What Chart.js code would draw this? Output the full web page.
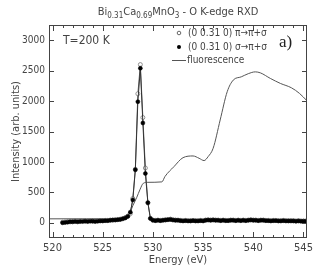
<!DOCTYPE html>
<html>
<head>
<meta charset="utf-8">
<script src="https://cdn.jsdelivr.net/npm/chart.js@4.4.1/dist/chart.umd.min.js"></script>
<style>
  body { margin: 0; background: #fff; }
  canvas { display: block; }
</style>
</head>
<body>
<canvas id="grafico" width="332" height="274"></canvas>
<script>
// Energy grid of the RXD scans (eV)
const energias = [
  521, 521.25, 521.5, 521.75, 522, 522.25, 522.5, 522.75, 523, 523.25, 523.5, 523.75,
  524, 524.25, 524.5, 524.75, 525, 525.25, 525.5, 525.75, 526, 526.25, 526.5, 526.75,
  527, 527.25, 527.5, 527.75, 528, 528.25, 528.5, 528.75, 529, 529.25, 529.5, 529.75,
  530, 530.25, 530.5, 530.75, 531, 531.25, 531.5, 531.75, 532, 532.25, 532.5, 532.75,
  533, 533.25, 533.5, 533.75, 534, 534.25, 534.5, 534.75, 535, 535.25, 535.5, 535.75,
  536, 536.25, 536.5, 536.75, 537, 537.25, 537.5, 537.75, 538, 538.25, 538.5, 538.75,
  539, 539.25, 539.5, 539.75, 540, 540.25, 540.5, 540.75, 541, 541.25, 541.5, 541.75,
  542, 542.25, 542.5, 542.75, 543, 543.25, 543.5, 543.75, 544, 544.25, 544.5, 544.75,
  545, 545.25
];
// (0 0.31 0) pi -> pi+sigma (open circles)
const piPiSigma = [
  10, 15, 20, 25, 20, 30, 25, 30, 35, 30, 30, 35,
  30, 30, 35, 35, 35, 40, 40, 45, 45, 50, 55, 60,
  70, 85, 110, 150, 400, 880, 2120, 2600, 1730, 900, 330, 75,
  45, 40, 45, 40, 45, 50, 55, 60, 50, 45, 45, 40,
  35, 40, 35, 35, 40, 35, 35, 40, 35, 45, 50, 45,
  50, 45, 45, 40, 45, 40, 40, 45, 45, 40, 45, 40,
  45, 40, 45, 50, 45, 45, 40, 45, 45, 40, 40, 35,
  40, 40, 35, 35, 40, 35, 35, 35, 35, 30, 35, 30,
  30, 30
];
// (0 0.31 0) sigma -> pi+sigma (filled circles)
const sigmaPiSigma = [
  0, 5, 10, 15, 15, 20, 15, 20, 20, 25, 20, 25,
  25, 20, 25, 30, 30, 35, 35, 40, 45, 45, 50, 55,
  65, 80, 105, 175, 375, 870, 1990, 2540, 1640, 810, 330, 70,
  40, 35, 40, 35, 40, 45, 50, 55, 45, 40, 40, 35,
  30, 35, 30, 30, 35, 30, 30, 35, 30, 40, 45, 40,
  45, 40, 40, 35, 40, 35, 35, 40, 40, 35, 40, 35,
  40, 35, 40, 45, 40, 40, 35, 40, 40, 35, 35, 30,
  35, 35, 30, 30, 35, 30, 30, 30, 30, 25, 30, 25,
  25, 25
];
// Fluorescence yield
const energiasFluo = [
  519.65, 527.2, 527.6, 528.0, 528.4, 528.7, 529.05, 529.5, 530.9, 531.2,
  532.1, 533.0, 534.0, 534.6, 535.1, 535.5, 536.0, 536.7, 537.4, 538.0,
  538.8, 539.5, 540.2, 540.7, 541.7, 542.7, 543.8, 544.6, 545.35
];
const fluorescencia = [
  65, 70, 120, 280, 420, 541, 650, 665, 672, 760,
  923, 1070, 1098, 1060, 1022, 1087, 1224, 1689, 2153, 2344,
  2398, 2450, 2480, 2464, 2372, 2290, 2218, 2126, 2005
];
const ticksX = [520, 525, 530, 535, 540, 545];
const ticksY = [0, 500, 1000, 1500, 2000, 2500, 3000];

const FUENTE = '"Liberation Sans Narrow", "DejaVu Sans Condensed", "Liberation Sans", sans-serif';
const GRIS = '#444';

function puntos(xs, ys) {
  return xs.map((x, i) => ({ x: x, y: ys[i] }));
}

// Inward ticks, frame, title, legend and labels
const decoracion = {
  id: 'decoracion',
  afterDraw(chart) {
    const ctx = chart.ctx;
    const a = chart.chartArea;
    const sx = chart.scales.x;
    const sy = chart.scales.y;
    ctx.save();
    ctx.strokeStyle = GRIS;
    ctx.lineWidth = 1;
    ctx.strokeRect(a.left + 0.5, a.top + 0.5, a.right - a.left - 1, a.bottom - a.top - 1);

    ctx.beginPath();
    for (let e = 520; e <= 545; e++) {
      const px = Math.round(sx.getPixelForValue(e)) + 0.5;
      const largo = e % 5 === 0 ? 6 : 3;
      ctx.moveTo(px, a.bottom); ctx.lineTo(px, a.bottom - largo);
      ctx.moveTo(px, a.top); ctx.lineTo(px, a.top + largo);
    }
    ticksY.forEach(v => {
      const py = Math.round(sy.getPixelForValue(v)) + 0.5;
      ctx.moveTo(a.left, py); ctx.lineTo(a.left + 5, py);
      ctx.moveTo(a.right, py); ctx.lineTo(a.right - 5, py);
    });
    ctx.stroke();

    // title with subscripts
    const partes = [['Bi', 0], ['0.31', 1], ['Ca', 0], ['0.69', 1], ['MnO', 0], ['3', 1], [' - O K-edge RXD', 0]];
    ctx.fillStyle = GRIS;
    ctx.textBaseline = 'alphabetic';
    let ancho = 0;
    partes.forEach(p => {
      ctx.font = (p[1] ? 8 : 11) + 'px ' + FUENTE;
      ancho += ctx.measureText(p[0]).width;
    });
    let x = (a.left + a.right) / 2 - ancho / 2;
    partes.forEach(p => {
      ctx.font = (p[1] ? 8 : 11) + 'px ' + FUENTE;
      ctx.fillText(p[0], x, p[1] ? 18 : 15);
      x += ctx.measureText(p[0]).width;
    });

    ctx.font = '12px ' + FUENTE;
    ctx.textBaseline = 'middle';
    ctx.fillText('T=200 K', a.left + 14, 41);

    ctx.font = '17px "Liberation Serif", "DejaVu Serif", serif';
    ctx.fillStyle = '#222';
    ctx.fillText('a)', 279, 43);

    // legend
    ctx.font = '10px ' + FUENTE;
    ctx.fillStyle = GRIS;
    ctx.fillText('(0 0.31 0) \u03c0\u2192\u03c0+\u03c3', 188, 33);
    ctx.fillText('(0 0.31 0) \u03c3\u2192\u03c0+\u03c3', 188, 47);
    ctx.fillText('fluorescence', 187, 60);
    ctx.beginPath();
    ctx.arc(179, 33, 1.8, 0, Math.PI * 2);
    ctx.fillStyle = '#fff';
    ctx.fill();
    ctx.strokeStyle = '#666';
    ctx.stroke();
    ctx.beginPath();
    ctx.arc(179, 47, 2, 0, Math.PI * 2);
    ctx.fillStyle = '#000';
    ctx.fill();
    ctx.beginPath();
    ctx.strokeStyle = '#555';
    ctx.moveTo(172, 60.5); ctx.lineTo(186, 60.5);
    ctx.stroke();
    ctx.restore();
  }
};

document.addEventListener('DOMContentLoaded', () => {
  const canvas = document.getElementById('grafico');
  new Chart(canvas.getContext('2d'), {
    type: 'scatter',
    data: {
      datasets: [
        {
          label: 'fluorescence',
          data: puntos(energiasFluo, fluorescencia),
          showLine: true,
          borderColor: '#555',
          borderWidth: 1,
          pointRadius: 0,
          cubicInterpolationMode: 'monotone',
          order: 3
        },
        {
          label: '(0 0.31 0) \u03c0\u2192\u03c0+\u03c3',
          data: puntos(energias, piPiSigma),
          showLine: true,
          borderColor: '#666',
          borderWidth: 1,
          pointRadius: 2,
          pointBackgroundColor: '#fff',
          pointBorderColor: '#777',
          pointBorderWidth: 0.8,
          order: 2
        },
        {
          label: '(0 0.31 0) \u03c3\u2192\u03c0+\u03c3',
          data: puntos(energias, sigmaPiSigma),
          showLine: true,
          borderColor: '#333',
          borderWidth: 1,
          pointRadius: 2,
          pointBackgroundColor: '#000',
          pointBorderColor: '#000',
          pointBorderWidth: 0.5,
          order: 1
        }
      ]
    },
    options: {
      responsive: false,
      animation: false,
      layout: { padding: { left: 0, right: 25, top: 25, bottom: 0 } },
      plugins: {
        legend: { display: false },
        tooltip: { enabled: false }
      },
      scales: {
        x: {
          type: 'linear',
          min: 519.65,
          max: 545.35,
          afterFit: s => { s.height = 36; },
          afterBuildTicks: s => { s.ticks = ticksX.map(v => ({ value: v })); },
          ticks: { color: GRIS, font: { family: FUENTE, size: 11 }, padding: 4, maxRotation: 0, callback: v => String(v) },
          grid: { display: false, drawTicks: false },
          border: { display: false },
          title: { display: true, text: 'Energy (eV)', color: GRIS, font: { family: FUENTE, size: 11 }, padding: { top: 0, bottom: 7 } }
        },
        y: {
          min: -250,
          max: 3250,
          afterFit: s => { s.width = 49; },
          afterBuildTicks: s => { s.ticks = ticksY.map(v => ({ value: v })); },
          ticks: { color: GRIS, font: { family: FUENTE, size: 10 }, padding: 4, callback: v => String(v) },
          grid: { display: false, drawTicks: false },
          border: { display: false },
          title: { display: true, text: 'Intensity (arb. units)', color: GRIS, font: { family: FUENTE, size: 11 }, padding: { top: 10, bottom: 0 } }
        }
      }
    },
    plugins: [decoracion]
  });
});
</script>
</body>
</html>
